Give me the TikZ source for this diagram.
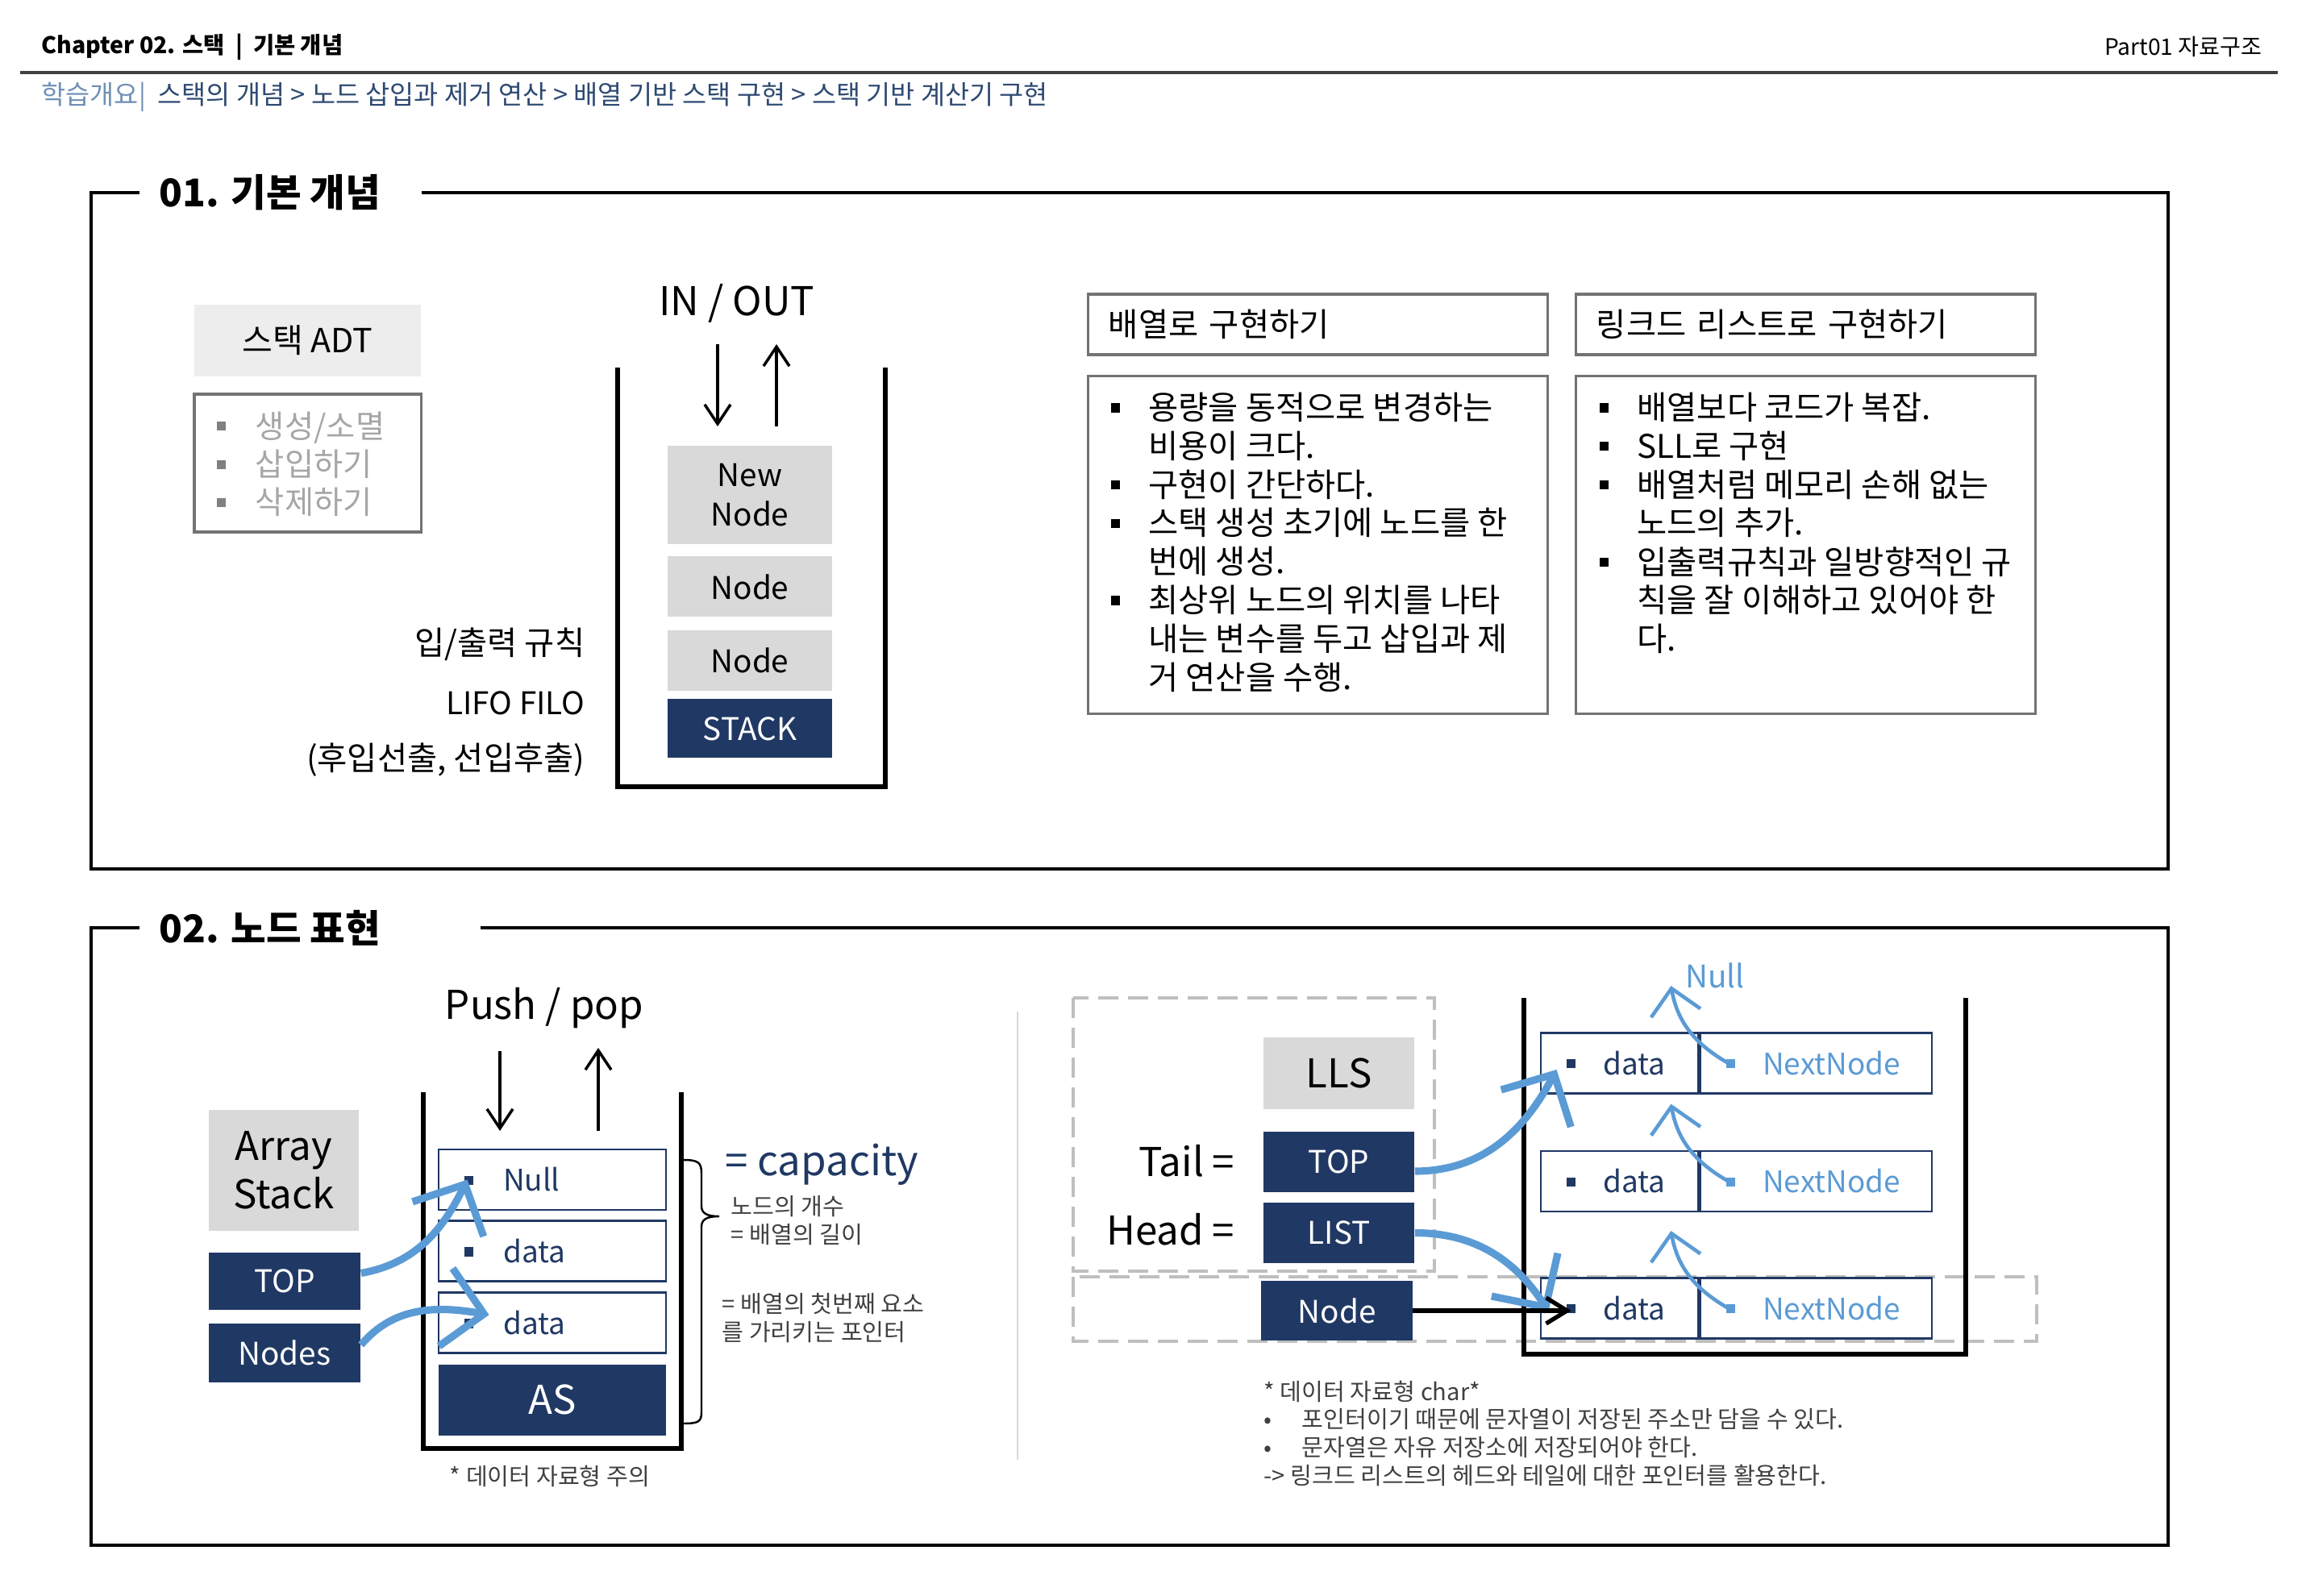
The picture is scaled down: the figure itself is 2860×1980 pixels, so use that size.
\documentclass[tikz,border=0pt]{standalone}
\usepackage{fontspec}
\setmainfont{Noto Sans CJK KR}
\usetikzlibrary{arrows.meta, positioning}
\definecolor{navy}{HTML}{203864}
\definecolor{skyblue}{HTML}{5B9BD5}
\definecolor{boxgray}{HTML}{D9D9D9}
\definecolor{adtgray}{HTML}{EDEDED}
\definecolor{crumbA}{HTML}{6F8FB5}
\definecolor{crumbB}{HTML}{2E4A72}
\definecolor{dashgray}{HTML}{BFBFBF}
\definecolor{notegray}{HTML}{404040}
\newcommand{\bul}{\rule[0.22em]{3.2pt}{3.2pt}}
\newcommand{\fsz}[2]{\fontsize{#1}{#2}\selectfont}
\tikzset{
  frame/.style    = {line width=1.1pt, draw=black},
  sectitle/.style = {anchor=west, inner sep=0pt, font=\fsz{13.5}{16}\bfseries},
  wall/.style     = {line width=1.5pt, draw=black},
  navybox/.style  = {fill=navy, text=white, inner sep=0pt, minimum width=1.87cm,
                     minimum height=0.74cm, font=\fsz{11}{13}},
  graybox/.style  = {fill=boxgray, inner sep=0pt, align=center, font=\fsz{11}{14}},
  outbox/.style   = {draw=black!55, line width=0.9pt, inner sep=0pt, font=\fsz{11.5}{13.6}},
  txt/.style      = {inner sep=0pt, font=\fsz{11.5}{13.6}},
  big/.style      = {inner sep=0pt, font=\fsz{14}{16}},
  note/.style     = {inner sep=0pt, text=notegray, font=\fsz{8.3}{9.9}, align=left},
  io/.style       = {-{Straight Barb[length=2.4mm,width=3.2mm]}, line width=1pt},
  ptr/.style      = {-{Straight Barb[length=4.8mm,width=9.8mm]}, line width=2.6pt, draw=skyblue},
  nxt/.style      = {-{Straight Barb[length=3.1mm,width=6.2mm]}, line width=1.3pt, draw=skyblue},
  cell/.style     = {draw=navy, line width=0.8pt, fill=white, inner sep=0pt, inner xsep=3.2mm,
                     minimum height=0.75cm, align=left, text=navy, font=\fsz{10.5}{13}},
  dashbox/.style  = {draw=dashgray, line width=1pt, dash pattern=on 2.5mm off 1.2mm},
}

\begin{document}
\begin{tikzpicture}[x=0.01cm, y=0.01cm]
\useasboundingbox (0,0) rectangle (2860,-1980);

% page header
\node[anchor=west, inner sep=0pt, font=\fsz{8.1}{10}\bfseries] (chap) at (51,-58) {Chapter 02. 스택 ~|~ 기본 개념};
\node[anchor=east, inner sep=0pt, font=\fsz{8}{10}] (part) at (2806,-58) {Part01 자료구조};
\draw[line width=1.1pt, black!75] (25,-90) -- (2825,-90);
\node[anchor=west, inner sep=0pt, font=\fsz{9.3}{11}, text=crumbB] (crumb) at (51,-120)
  {\textcolor{crumbA}{학습개요|}\ \ 스택의 개념 > 노드 삽입과 제거 연산 > 배열 기반 스택 구현 > 스택 기반 계산기 구현};

% section frames
\node[sectitle] (sec1) at (197,-239) {01. 기본 개념};
\draw[frame] (173,-239) -| (113,-1078) -| (2689,-239) -- (523,-239);
\node[sectitle] (sec2) at (197,-1151) {02. 노드 표현};
\draw[frame] (173,-1151) -| (113,-1917) -| (2689,-1151) -- (596,-1151);

% 01: ADT
\node[graybox, fill=adtgray, minimum width=2.81cm, minimum height=0.89cm, font=\fsz{11.7}{14}] (adt) at (381.5,-422.5) {\raisebox{-1.8pt}{스택 ADT}};
\node[outbox, minimum width=2.81cm, minimum height=1.71cm] (adtbox) at (381.5,-574.5) {};
\node[txt, anchor=west, text=black!35, font=\fsz{11.2}{13.5}] (adtlist) at (268,-581)
  {\begin{tabular}{@{}l@{\hspace{10.5pt}}l@{}}
   \textcolor{black!50}{\bul} & 생성/소멸\\
   \textcolor{black!50}{\bul} & 삽입하기\\
   \textcolor{black!50}{\bul} & 삭제하기
   \end{tabular}};

% 01: stack
\draw[wall] (766,-456) |- (1098,-976) -- (1098,-456);
\node[big] (inout) at (914,-376) {IN / OUT};
\coordinate (inA) at (890,-427);
\coordinate (inB) at (890,-529);
\coordinate (outA) at (963,-529);
\coordinate (outB) at (963,-427);
\draw[io] (inA) -- (inB);
\draw[io] (outA) -- (outB);

\node[graybox, minimum width=2.04cm, minimum height=1.22cm] (newnode) at (930,-614) {New\\Node};
\node[graybox, minimum width=2.04cm, minimum height=0.75cm, below=0.14cm of newnode] (node1) {Node};
\node[graybox, minimum width=2.04cm, minimum height=0.75cm, below=0.15cm of node1] (node2) {Node};
\node[navybox, minimum width=2.04cm, minimum height=0.73cm, below=0.09cm of node2] (stk) {STACK};

\node[txt, anchor=east] (iorule) at (726,-799) {입/출력 규칙};
\node[txt, anchor=east, font=\fsz{11}{13}] (lifo) at (726,-872) {LIFO FILO};
\node[txt, anchor=east] (order) at (726,-943) {(후입선출, 선입후출)};

% 01: comparison
\node[outbox, minimum height=0.75cm, text width=5.19cm, inner xsep=0.25cm, align=left] (arrhead) at (1634.5,-402.5) {배열로 구현하기};
\node[outbox, minimum height=0.75cm, text width=5.19cm, inner xsep=0.25cm, align=left] (llhead) at (2239.5,-402.5) {링크드 리스트로 구현하기};
\node[outbox, minimum width=5.69cm, minimum height=4.18cm] (arrbody) at (1634.5,-676) {};
\node[outbox, minimum width=5.69cm, minimum height=4.18cm] (llbody) at (2239.5,-676) {};
\node[txt, anchor=north west] (arrlist) at ([xshift=2.9mm,yshift=-2.1mm]arrbody.north west)
  {\begin{tabular}{@{}l@{\hspace{10pt}}l@{}}
   \bul & 용량을 동적으로 변경하는\\
        & 비용이 크다.\\
   \bul & 구현이 간단하다.\\
   \bul & 스택 생성 초기에 노드를 한\\
        & 번에 생성.\\
   \bul & 최상위 노드의 위치를 나타\\
        & 내는 변수를 두고 삽입과 제\\
        & 거 연산을 수행.
   \end{tabular}};
\node[txt, anchor=north west] (lllist) at ([xshift=3.0mm,yshift=-2.1mm]llbody.north west)
  {\begin{tabular}{@{}l@{\hspace{10pt}}l@{}}
   \bul & 배열보다 코드가 복잡.\\
   \bul & SLL로 구현\\
   \bul & 배열처럼 메모리 손해 없는\\
        & 노드의 추가.\\
   \bul & 입출력규칙과 일방향적인 규\\
        & 칙을 잘 이해하고 있어야 한\\
        & 다.
   \end{tabular}};

% 02: array stack
\node[big] (pushpop) at (675,-1251) {Push / pop};
\coordinate (pushA) at (620,-1304);
\coordinate (pushB) at (620,-1403);
\coordinate (popA) at (742,-1403);
\coordinate (popB) at (742,-1300);
\draw[io] (pushA) -- (pushB);
\draw[io] (popA) -- (popB);

\node[graybox, minimum width=1.86cm, minimum height=1.5cm, font=\fsz{14}{17}] (astack) at (352,-1452) {Array\\Stack};
\node[navybox, minimum width=1.88cm, minimum height=0.71cm] (atop) at (353,-1589.5) {TOP};
\node[navybox, minimum width=1.88cm, minimum height=0.73cm] (anodes) at (353,-1678.5) {Nodes};

\draw[wall] (525,-1355) |- (845,-1797) -- (845,-1355);
\node[cell, text width=2.18cm] (cnull) at (685,-1463.5) {\bul\hspace{10.5pt}Null};
\node[cell, text width=2.18cm, below=0.11cm of cnull] (cd1) {\bul\hspace{10.5pt}data};
\node[cell, text width=2.18cm, below=0.11cm of cd1] (cd2) {\bul\hspace{10.5pt}data};
\node[navybox, minimum width=2.82cm, minimum height=0.88cm, font=\fsz{14}{16}, below=0.12cm of cd2] (as) {AS};

\draw[line width=0.7pt] (847,-1439) .. controls (866,-1439) and (870,-1442) .. (870,-1456)
  -- (870,-1496) .. controls (870,-1505) and (876,-1509) .. (892,-1509)
  .. controls (876,-1509) and (870,-1513) .. (870,-1522)
  -- (870,-1752) .. controls (870,-1764) and (866,-1766) .. (847,-1766);
\node[anchor=west, inner sep=0pt, text=navy, font=\fsz{14.5}{17}] (cap) at (899,-1445) {= capacity};
\node[note, anchor=west] (count) at (906,-1514) {노드의 개수\\= 배열의 길이};
\node[note, anchor=west] (first) at (895,-1635) {= 배열의 첫번째 요소\\를 가리키는 포인터};
\node[note] (typenote) at (682,-1831) {* 데이터 자료형 주의};

\draw[ptr] ([yshift=1mm]atop.east) to[out=10,in=244] ([xshift=3.7mm]cnull.west);
\draw[ptr] ([yshift=1mm]anodes.east) to[out=50,in=170] ([xshift=6.4mm,yshift=1mm]cd2.west);

\draw[draw=black!15, line width=0.8pt] (1262,-1255) -- (1262,-1811);

% 02: linked list stack
\draw[dashbox] (1331,-1238) rectangle (1779,-1577);
\draw[dashbox] (1331,-1584) rectangle (2526,-1664);
\node[graybox, minimum width=1.87cm, minimum height=0.89cm, font=\fsz{14}{16}] (lls) at (1660.5,-1331.5) {LLS};
\node[navybox] (ltop) at (1660.5,-1441.5) {TOP};
\node[navybox] (llist) at (1660.5,-1529.5) {LIST};
\node[navybox] (lnode) at (1658,-1626) {Node};
\node[big, anchor=east] (tail) at (1532,-1440) {Tail =};
\node[big, anchor=east] (head) at (1532,-1525) {Head =};

\draw[wall] (1890,-1238) |- (2438,-1680) -- (2438,-1238);
\foreach \i/\y in {1/-1319, 2/-1465.5, 3/-1623} {
  \node[cell, text width=1.31cm] (d\i) at (2008.5,\y) {\bul\hspace{9.7pt}data};
  \node[cell, text=skyblue, text width=2.23cm, right=0pt of d\i] (n\i) {\bul\hspace{9.7pt}\mbox{NextNode}};
  \coordinate (up\i) at ([xshift=-0.35cm,yshift=0.57cm]n\i.north west);
  \draw[nxt] ([xshift=3.6mm]n\i.west) to[out=150,in=-80] (up\i);
}
\node[inner sep=0pt, text=skyblue, font=\fsz{11}{13}] (nulltxt) at (2127,-1210) {Null};

\draw[ptr] ([yshift=-1.15mm]ltop.east) to[out=0,in=242] ([xshift=2.1mm,yshift=-0.8mm]d1.west);
\draw[ptr] (llist.east) to[out=0,in=123] ([xshift=1.1mm,yshift=-0.4mm]d3.west);
\coordinate (d3b) at ([xshift=3.9mm]d3.west);
\draw[-{Straight Barb[length=2.6mm,width=3.2mm]}, line width=1.5pt] (lnode.east) -- (lnode.east -| d3b);

\node[note, anchor=north west] (charnote) at (1567,-1712)
  {\begin{tabular}{@{}p{13.4pt}@{}l@{}}
   \multicolumn{2}{@{}l@{}}{* 데이터 자료형 char*}\\
   • & 포인터이기 때문에 문자열이 저장된 주소만 담을 수 있다.\\
   • & 문자열은 자유 저장소에 저장되어야 한다.\\
   \multicolumn{2}{@{}l@{}}{-> 링크드 리스트의 헤드와 테일에 대한 포인터를 활용한다.}
   \end{tabular}};
\end{tikzpicture}
\end{document}
